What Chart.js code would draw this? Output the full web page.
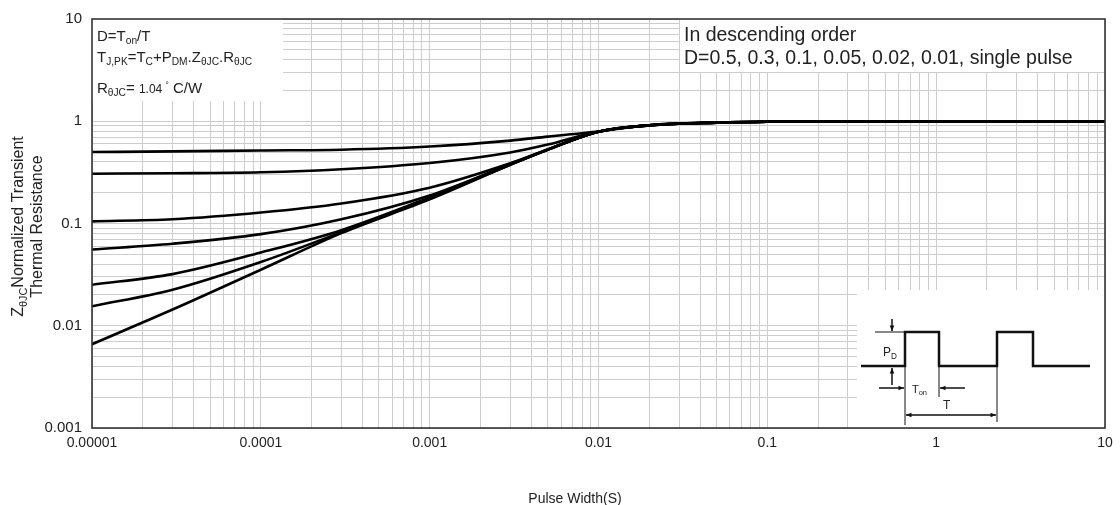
<!DOCTYPE html>
<html>
<head>
<meta charset="utf-8">
<script src="https://cdn.jsdelivr.net/npm/chart.js@4.4.1/dist/chart.umd.min.js"></script>
<style>
  body { margin: 0; background: #fff; }
</style>
</head>
<body>
<canvas id="myChart" width="1120" height="505"></canvas>
<script>
// pulse width (s) and Zth curves
const pulseWidth = [0.00001, 0.00003, 0.0001, 0.0003, 0.001, 0.003, 0.005, 0.01, 0.02, 0.05, 0.1, 1, 10];

const dutyLabels = ["D=0.5", "D=0.3", "D=0.1", "D=0.05", "D=0.02", "D=0.01", "single pulse"];

const d05 = [0.50, 0.507, 0.518, 0.527, 0.566, 0.647, 0.708, 0.795, 0.915, 0.971, 0.99, 1, 1];
const d03 = [0.307, 0.31, 0.317, 0.339, 0.39, 0.495, 0.592, 0.795, 0.915, 0.971, 0.99, 1, 1];
const d01 = [0.105, 0.11, 0.128, 0.157, 0.224, 0.388, 0.53, 0.79, 0.912, 0.97, 0.99, 1, 1];
const d005 = [0.0557, 0.0634, 0.0787, 0.11, 0.188, 0.38, 0.53, 0.79, 0.912, 0.97, 0.99, 1, 1];
const d002 = [0.0252, 0.032, 0.052, 0.086, 0.18, 0.378, 0.528, 0.79, 0.912, 0.97, 0.99, 1, 1];
const d001 = [0.0155, 0.0225, 0.042, 0.0822, 0.176, 0.376, 0.527, 0.79, 0.912, 0.97, 0.99, 1, 1];
const single = [0.0066, 0.0144, 0.0353, 0.0805, 0.172, 0.374, 0.525, 0.79, 0.912, 0.97, 0.99, 1, 1];

const series = [d05, d03, d01, d005, d002, d001, single];

const xTickLabels = ["0.00001", "0.0001", "0.001", "0.01", "0.1", "1", "10"];
const yTickLabels = ["0.001", "0.01", "0.1", "1", "10"];

const FONT = '"Liberation Sans", Arial, sans-serif';

// text with subscripts : parts = [text, kind]  n=normal s=sub u=sup m=small
function partSize(kind, size) {
  if (kind === "s") return size * 0.68;
  if (kind === "u") return size * 0.55;
  if (kind === "m") return size * 0.8;
  return size;
}

function drawRich(ctx, x, y, parts, size) {
  let cx = x;
  parts.forEach(p => {
    const kind = p[1] || "n";
    let dy = 0;
    if (kind === "s") dy = size * 0.22;
    if (kind === "u") dy = -size * 0.35;
    ctx.font = partSize(kind, size) + "px " + FONT;
    ctx.fillText(p[0], cx, y + dy);
    cx += ctx.measureText(p[0]).width;
  });
  return cx - x;
}

function richWidth(ctx, parts, size) {
  let w = 0;
  parts.forEach(p => {
    ctx.font = partSize(p[1] || "n", size) + "px " + FONT;
    w += ctx.measureText(p[0]).width;
  });
  return w;
}

function arrow(ctx, x1, y1, x2, y2) {
  const a = Math.atan2(y2 - y1, x2 - x1);
  ctx.beginPath();
  ctx.moveTo(x1, y1);
  ctx.lineTo(x2, y2);
  ctx.stroke();
  ctx.beginPath();
  ctx.moveTo(x2, y2);
  ctx.lineTo(x2 - 6 * Math.cos(a - 0.4), y2 - 6 * Math.sin(a - 0.4));
  ctx.lineTo(x2 - 6 * Math.cos(a + 0.4), y2 - 6 * Math.sin(a + 0.4));
  ctx.closePath();
  ctx.fill();
}

const decorations = {
  id: "decorations",
  beforeDraw(chart) {
    const ctx = chart.ctx;
    ctx.save();
    ctx.fillStyle = "#fff";
    ctx.fillRect(0, 0, chart.width, chart.height);
    ctx.restore();
  },
  beforeDatasetsDraw(chart) {
    // white boxes over the grid for the notes
    const ctx = chart.ctx;
    const a = chart.chartArea;
    ctx.save();
    ctx.fillStyle = "#fff";
    ctx.fillRect(a.left, a.top, 191, 82);
    ctx.fillRect(a.right - 425, a.top, 425, 53);
    ctx.fillRect(a.right - 248, a.bottom - 138, 248, 138);
    ctx.restore();
  },
  afterDraw(chart) {
    const ctx = chart.ctx;
    const a = chart.chartArea;
    ctx.save();
    ctx.fillStyle = "#222";
    ctx.textBaseline = "alphabetic";
    ctx.textAlign = "left";

    // left note box
    const lx = a.left + 5;
    drawRich(ctx, lx, a.top + 22, [["D=T"], ["on", "s"], ["/T"]], 15);
    drawRich(ctx, lx, a.top + 43, [["T"], ["J,PK", "s"], ["=T"], ["C", "s"], ["+P"], ["DM", "s"], ["."], ["Z"], ["θJC", "s"], ["."], ["R"], ["θJC", "s"]], 15);
    drawRich(ctx, lx, a.top + 74, [["R"], ["θJC", "s"], ["= "], ["1.04 ", "m"], ["°", "u"], [" C/W"]], 15);

    // right note
    ctx.font = "19.5px " + FONT;
    ctx.fillText("In descending order", a.right - 421, a.top + 22);
    ctx.fillText("D=0.5, 0.3, 0.1, 0.05, 0.02, 0.01, single pulse", a.right - 421, a.top + 45);

    // y title, rotated
    const cy = (a.top + a.bottom) / 2 + 3;
    const t1 = [["Z"], ["θJC", "s"], ["Normalized Transient"]];
    const t2 = [["Thermal Resistance"]];
    ctx.save();
    ctx.translate(23, cy);
    ctx.rotate(-Math.PI / 2);
    drawRich(ctx, -richWidth(ctx, t1, 16) / 2, 0, t1, 16);
    ctx.restore();
    ctx.save();
    ctx.translate(42, cy);
    ctx.rotate(-Math.PI / 2);
    drawRich(ctx, -richWidth(ctx, t2, 16) / 2, 0, t2, 16);
    ctx.restore();

    // x title
    ctx.font = "14px " + FONT;
    ctx.textAlign = "center";
    ctx.fillText("Pulse Width(S)", 575, 503);
    ctx.textAlign = "left";

    // pulse sketch in the lower right corner
    const r = a.right, b = a.bottom;
    const base = b - 62, high = b - 96;
    ctx.strokeStyle = "#111";
    ctx.fillStyle = "#111";
    ctx.lineWidth = 2.5;
    ctx.beginPath();
    ctx.moveTo(r - 244, base);
    ctx.lineTo(r - 200, base);
    ctx.lineTo(r - 200, high);
    ctx.lineTo(r - 166, high);
    ctx.lineTo(r - 166, base);
    ctx.lineTo(r - 108, base);
    ctx.lineTo(r - 108, high);
    ctx.lineTo(r - 72, high);
    ctx.lineTo(r - 72, base);
    ctx.lineTo(r - 15, base);
    ctx.stroke();

    ctx.lineWidth = 1;
    ctx.beginPath();
    ctx.moveTo(r - 230, high);
    ctx.lineTo(r - 200, high);
    ctx.moveTo(r - 200, base);
    ctx.lineTo(r - 200, b - 3);
    ctx.moveTo(r - 166, base);
    ctx.lineTo(r - 166, b - 31);
    ctx.moveTo(r - 108, base);
    ctx.lineTo(r - 108, b - 6);
    ctx.stroke();

    ctx.lineWidth = 1.5;
    arrow(ctx, r - 213, high - 13, r - 213, high - 1);
    arrow(ctx, r - 213, base + 19, r - 213, base + 2);
    arrow(ctx, r - 226, b - 40, r - 201, b - 40);
    arrow(ctx, r - 140, b - 40, r - 165, b - 40);
    arrow(ctx, r - 150, b - 13, r - 199, b - 13);
    arrow(ctx, r - 150, b - 13, r - 109, b - 13);

    ctx.fillStyle = "#222";
    drawRich(ctx, r - 222, base - 10, [["P"], ["D", "s"]], 12);
    drawRich(ctx, r - 193, b - 35, [["T"], ["on", "s"]], 11);
    drawRich(ctx, r - 162, b - 19, [["T"]], 12);

    // plot frame
    ctx.strokeStyle = "#333";
    ctx.lineWidth = 1.6;
    ctx.strokeRect(a.left, a.top, a.right - a.left, a.bottom - a.top);
    ctx.restore();
  }
};

// 1..9 in every decade, so that the grid looks like log paper
function logGrid(min, max) {
  const ticks = [];
  for (let e = Math.round(Math.log10(min)); e < Math.round(Math.log10(max)); e++) {
    for (let m = 1; m < 10; m++) {
      ticks.push({ value: +(m * Math.pow(10, e)).toPrecision(3) });
    }
  }
  ticks.push({ value: max });
  return ticks;
}

function decadeLabel(value, labels, minExp) {
  const e = Math.log10(value);
  if (Math.abs(e - Math.round(e)) < 1e-6) return labels[Math.round(e) - minExp];
  return "";
}

const ctx = document.getElementById("myChart").getContext("2d");

const chart = new Chart(ctx, {
  type: "line",
  data: {
    datasets: series.map((s, i) => ({
      label: dutyLabels[i],
      data: pulseWidth.map((x, j) => ({ x: x, y: s[j] })),
      borderColor: "#000",
      borderWidth: 2.6,
      pointRadius: 0,
      fill: false,
      cubicInterpolationMode: "monotone"
    }))
  },
  options: {
    responsive: false,
    animation: false,
    layout: { padding: { top: 12, right: 15, left: 0, bottom: 0 } },
    plugins: {
      legend: { display: false },
      tooltip: { enabled: false }
    },
    scales: {
      x: {
        type: "logarithmic",
        min: 0.00001,
        max: 10,
        afterBuildTicks: scale => { scale.ticks = logGrid(0.00001, 10); },
        afterFit: scale => { scale.height = 77; },
        ticks: {
          autoSkip: false,
          maxRotation: 0,
          padding: 7,
          color: "#222",
          font: { family: FONT, size: 14 },
          callback: value => decadeLabel(value, xTickLabels, -5)
        },
        grid: { color: "#cdcdcd", drawTicks: false },
        border: { display: false }
      },
      y: {
        type: "logarithmic",
        min: 0.001,
        max: 10,
        afterBuildTicks: scale => { scale.ticks = logGrid(0.001, 10); },
        afterFit: scale => { scale.width = 92; },
        ticks: {
          autoSkip: false,
          padding: 10,
          color: "#222",
          font: { family: FONT, size: 15 },
          callback: value => decadeLabel(value, yTickLabels, -3)
        },
        grid: { color: "#cdcdcd", drawTicks: false },
        border: { display: false }
      }
    }
  },
  plugins: [decorations]
});
</script>
</body>
</html>
